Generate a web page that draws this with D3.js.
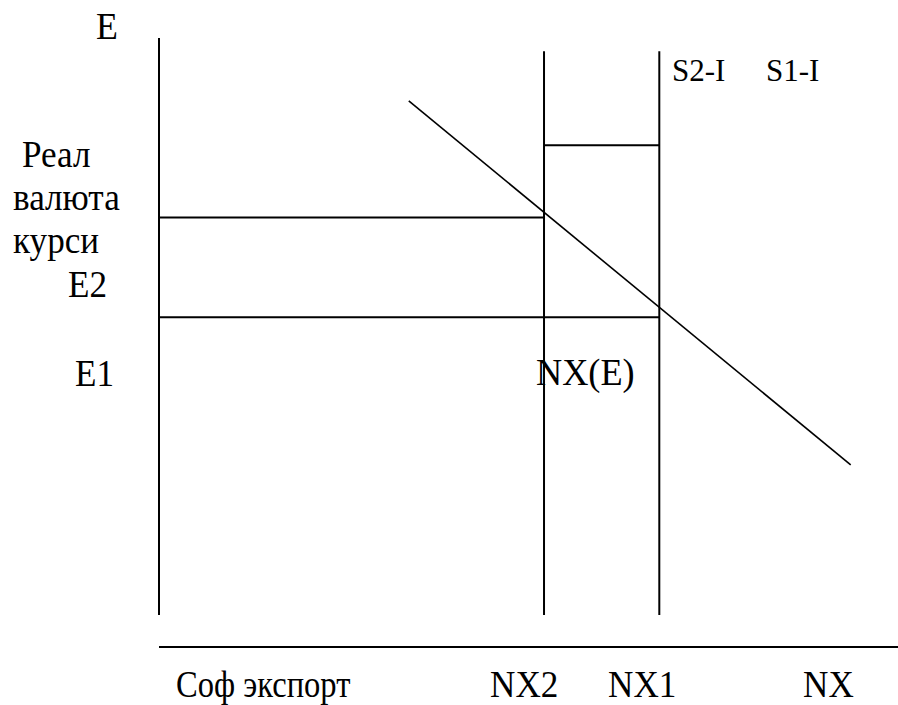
<!DOCTYPE html>
<html>
    <head>
        <meta charset="utf-8">
        <title>NX(E)</title>
        <script type="text/javascript" src="https://d3js.org/d3.v7.min.js"></script>
        <style type="text/css">
          body{
            margin: 0;
            background: #ffffff;
          }
        </style>
    </head>
    <body>
      <div id="chart"></div>
      <script type="text/javascript">

        const w = 898;
        const h = 705;

        // axes extents (model units: 0..100 on both axes)
        const axisE = [0, 100];      // vertical E axis, bottom -> top
        const axisNX = [0, 100];     // NX axis

        // net export levels (S-I verticals)
        const nxLevels = [52.1, 67.7];        // NX2, NX1
        const nxTop = 97.7;                   // where the S-I lines start

        // real exchange rates
        const eLevels = [68.9, 51.6];         // E2, E1 (horizontal guides)
        const eShort = 81.4;                  // short guide between NX2 and NX1

        // NX(E) demand line end points [nx, e]
        const nxCurve = [[33.8, 89.1], [93.6, 26.0]];

        // text
        const leftLabels = ["Реал", "валюта", "курси", "E2", "E1"];
        const bottomLabels = ["Соф экспорт", "NX2", "NX1", "NX"];
        const topLabels = ["S2-I", "S1-I"];

        const x = d3.scaleLinear().domain(axisNX).range([159, 898]);
        const y = d3.scaleLinear().domain(axisE).range([615, 38]);

        const svg = d3.select("#chart")
                      .append("svg")
                      .attr("width", w)
                      .attr("height", h);

        // E axis
        svg.append("line")
           .attr("x1", x(0)).attr("x2", x(0))
           .attr("y1", y(axisE[1])).attr("y2", y(axisE[0]))
           .attr("stroke", "#000")
           .attr("stroke-width", 2);

        // NX axis, drawn below the plot
        svg.append("line")
           .attr("x1", x(0)).attr("x2", x(axisNX[1]))
           .attr("y1", y(0) + 32).attr("y2", y(0) + 32)
           .attr("stroke", "#000")
           .attr("stroke-width", 2);

        // S-I verticals
        svg.selectAll(".vert")
           .data(nxLevels)
           .enter()
           .append("line")
           .attr("class", "vert")
           .attr("x1", d => x(d)).attr("x2", d => x(d))
           .attr("y1", y(nxTop)).attr("y2", y(0))
           .attr("stroke", "#000")
           .attr("stroke-width", 2);

        // E guides: E2 to NX2, E1 to NX1
        svg.selectAll(".hor")
           .data(eLevels)
           .enter()
           .append("line")
           .attr("class", "hor")
           .attr("x1", x(0))
           .attr("x2", (d, i) => x(nxLevels[i]))
           .attr("y1", d => y(d)).attr("y2", d => y(d))
           .attr("stroke", "#000")
           .attr("stroke-width", 2);

        svg.append("line")
           .attr("x1", x(nxLevels[0])).attr("x2", x(nxLevels[1]))
           .attr("y1", y(eShort)).attr("y2", y(eShort))
           .attr("stroke", "#000")
           .attr("stroke-width", 2);

        // NX(E) line
        svg.append("path")
           .datum(nxCurve)
           .attr("fill", "none")
           .attr("stroke", "#000")
           .attr("stroke-width", 1.6)
           .attr("d", d3.line().x(d => x(d[0])).y(d => y(d[1])));

        // text helper: Times-like, a bit narrow like the original
        function label(txt, px, py, size, sx) {
          svg.append("text")
             .attr("transform", `translate(${px},${py}) scale(${sx},1)`)
             .attr("font-family", "Liberation Serif")
             .attr("font-size", size)
             .attr("fill", "#000")
             .text(txt);
        }

        // labels (layout positions)
        const leftPos = [[22, 167], [13, 210], [13, 253], [68, 297], [75, 386]];
        leftLabels.forEach((t, i) => label(t, leftPos[i][0], leftPos[i][1], 37, 0.95));

        const bottomPos = [176, 490, 608, 803];
        bottomLabels.forEach((t, i) => label(t, bottomPos[i], 697, 37, i === 0 ? 0.88 : 0.95));

        const topPos = [672, 766];
        topLabels.forEach((t, i) => label(t, topPos[i], 81, 32, 0.97));

        label("E", 96, 39, 37, 0.97);
        label("NX(E)", 536, 385, 37, 0.98);

      </script>
    </body>
</html>
